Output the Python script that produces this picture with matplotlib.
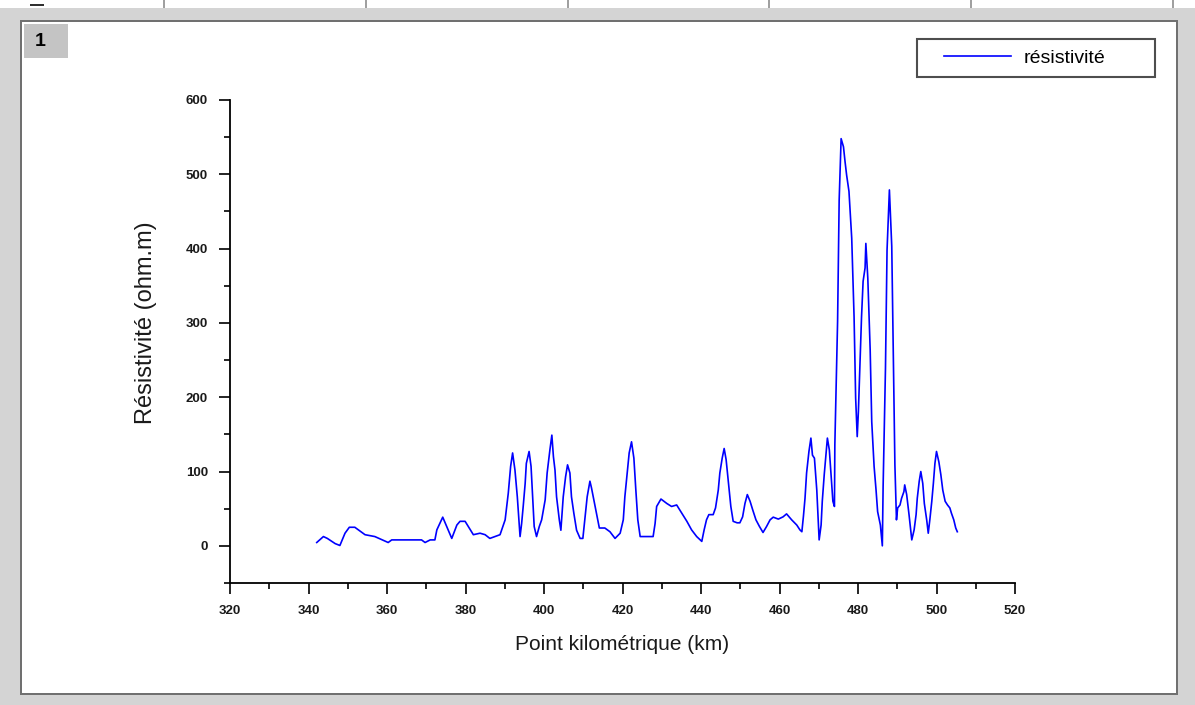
import matplotlib
matplotlib.use("Agg")
import matplotlib.pyplot as plt
from matplotlib.patches import Rectangle
from matplotlib.ticker import MultipleLocator
from matplotlib.offsetbox import DrawingArea

# ---- data ----
km = [342.1, 343.8, 344.8, 346.8, 348.0, 349.3, 350.4, 351.8, 354.4, 356.9,
      360.3, 361.2, 368.8, 369.7, 371.0, 372.2, 372.7, 374.2, 376.5, 377.8,
      378.6, 379.9, 382.0, 383.7, 385.0, 386.2, 388.8, 390.1, 390.9, 391.5,
      392.0, 392.6, 393.2, 393.9, 394.3, 394.7, 395.2, 395.5, 396.2, 396.7,
      397.1, 397.5, 398.1, 398.8, 399.4, 400.3, 400.8, 401.5, 402.0, 402.4,
      402.8, 403.2, 403.9, 404.3, 404.9, 405.5, 406.0, 406.6, 407.0, 407.6,
      408.3, 409.2, 409.9, 410.4, 411.0, 411.7, 412.1, 412.7, 413.4, 414.1,
      415.5, 416.8, 418.1, 419.4, 420.2, 420.6, 421.1, 421.7, 422.3, 422.9,
      423.4, 423.9, 424.5, 427.8, 428.3, 428.7, 429.8, 431.3, 432.5, 433.8,
      435.1, 436.4, 437.6, 438.9, 440.2, 440.8, 441.4, 442.0, 443.1, 443.7,
      444.4, 444.8, 445.4, 445.9, 446.4, 447.0, 447.6, 448.2, 449.2, 449.9,
      450.6, 451.2, 451.8, 452.5, 453.2, 454.0, 454.9, 455.8, 456.7, 457.6,
      458.4, 459.7, 460.9, 461.8, 463.1, 464.4, 465.2, 465.7, 466.1, 466.5,
      466.9, 467.5, 468.0, 468.4, 468.9, 469.5, 469.9, 470.1, 470.6, 470.9,
      471.4, 471.9, 472.2, 472.7, 473.1, 473.6, 474.0, 474.1, 474.8, 475.2,
      475.7, 476.3, 476.7, 477.1, 477.7, 478.4, 479.0, 479.4, 479.8, 480.1,
      480.5, 480.9, 481.3, 481.8, 482.0, 482.5, 483.1, 483.5, 484.1, 484.6,
      485.0, 485.7, 486.2, 486.4, 487.0, 487.4, 488.0, 488.6, 489.0, 489.4,
      489.8, 490.1, 490.7, 491.1, 491.7, 491.9, 492.4, 493.0, 493.7, 494.3,
      494.8, 495.1, 495.6, 496.0, 496.5, 496.9, 497.5, 497.9, 498.3, 498.8,
      499.2, 499.6, 500.0, 500.6, 501.1, 501.6, 502.2, 502.8, 503.4, 503.8,
      504.4, 504.9, 505.3]
resistivite = [4.5, 12.5, 10, 3, 0.5, 17, 25, 25, 15, 12.5,
               4.5, 8, 8, 4.5, 8, 8, 21.5, 38.6, 10, 28,
               33, 33, 15, 17, 15, 10, 15, 35, 71, 107,
               125, 102, 66, 12.5, 30, 53, 84, 111, 127, 107,
               66, 26, 12.5, 26, 35, 62, 98, 129, 149, 120,
               102, 66, 35, 21, 66, 93, 109, 98, 66, 44,
               21, 10, 10, 35, 66, 87, 78, 62, 44, 24,
               24, 19, 10, 17, 35, 66, 93, 125, 140, 118,
               75, 35, 12.5, 12.5, 30, 53, 63, 57, 53, 55,
               44, 33, 21.5, 12.5, 6, 21.5, 35, 42, 42, 51,
               75, 98, 118, 131, 116, 84, 53, 33, 31, 31,
               39, 57, 69, 60, 48, 35, 26, 18, 26, 35,
               38.6, 36, 39, 43, 35, 28, 21.5, 19, 40, 64,
               98, 127, 145, 122, 118, 75, 31, 8, 28, 60,
               96, 127, 145, 129, 98, 60, 53, 136, 302, 465,
               548, 537, 517, 499, 477, 414, 308, 199, 147, 181,
               246, 308, 356, 374, 407, 360, 264, 167, 107, 75,
               46, 28, 0, 80, 239, 398, 479, 403, 256, 109,
               35, 51, 55, 64, 73, 82, 69, 42, 8, 21.5,
               42, 64, 87, 100, 84, 57, 35, 17, 35, 60,
               84, 111, 127, 113, 96, 75, 60, 55, 51, 44,
               35, 24, 19]

x_ticks = [320, 340, 360, 380, 400, 420, 440, 460, 480, 500, 520]
y_ticks = [0, 100, 200, 300, 400, 500, 600]
series_label = "résistivité"
x_label = "Point kilométrique (km)"
y_label = "Résistivité (ohm.m)"
page_label = "1"

plt.rcParams['font.family'] = ['Liberation Sans', 'DejaVu Sans']

W, H = 1195, 705
fig = plt.figure(figsize=(W / 100, H / 100), dpi=100)
fig.patch.set_facecolor('#d4d4d4')


def px_rect(x0, y0, x1, y1, **kw):
    """rectangle given in pixel coords (origin top-left)"""
    fig.patches.append(Rectangle((x0 / W, 1 - y1 / H), (x1 - x0) / W, (y1 - y0) / H,
                                 transform=fig.transFigure, figure=fig,
                                 zorder=-10, **kw))


# top spreadsheet-like strip
px_rect(0, 0, W, 8, facecolor='white', edgecolor='none')
for sx in [163, 365, 567, 768, 970, 1172]:
    px_rect(sx, 0, sx + 1.5, 8, facecolor='#a0a0a0', edgecolor='none')
px_rect(30, 4, 44, 6, facecolor='#303030', edgecolor='none')
# page area
px_rect(20, 20, 1178, 695, facecolor='#707070', edgecolor='none')
px_rect(22, 22, 1176, 693, facecolor='white', edgecolor='none')
# page number box
px_rect(24, 24, 68, 58, facecolor='#c4c4c4', edgecolor='none')
fig.text(40 / W, 1 - 41 / H, page_label, fontsize=14, fontweight='bold',
         ha='center', va='center', color='black')

ax = fig.add_axes([230 / W, 1 - 583 / H, (1015 - 230) / W, (583 - 100) / H])
ax.set_facecolor('none')
ax.plot(km, resistivite, color='#0000ff', lw=1.2, label=series_label)

ax.set_xlim(320, 520)
ax.set_ylim(-50, 600)
ax.set_xticks(x_ticks)
ax.set_yticks(y_ticks)
ax.xaxis.set_minor_locator(MultipleLocator(10))
ax.yaxis.set_minor_locator(MultipleLocator(50))
for s in ['top', 'right']:
    ax.spines[s].set_visible(False)
for s in ['left', 'bottom']:
    ax.spines[s].set_linewidth(1.3)
    ax.spines[s].set_color('black')
ax.tick_params(which='major', direction='out', length=8, width=1.2, labelsize=9.5,
               labelcolor='#1a1a1a', pad=8)
ax.tick_params(which='minor', direction='out', length=4.5, width=1.2)
for lab in ax.get_xticklabels() + ax.get_yticklabels():
    lab.set_fontweight('bold')

ax.set_xlabel(x_label, fontsize=15, labelpad=13, color='#1a1a1a')
ax.set_ylabel(y_label, fontsize=17, color='#1a1a1a')
ax.yaxis.set_label_coords((157 - 230) / 785, (583 - 323) / 483)

fs = 14
fpx = fs * 100 / 72.0
leg = ax.legend(loc='upper right', bbox_to_anchor=(1155 / W, 1 - 39 / H),
                bbox_transform=fig.transFigure, frameon=True, fancybox=False,
                fontsize=fs, handlelength=67 / fpx, borderpad=0.52,
                handletextpad=12 / fpx, borderaxespad=0)
leg.get_frame().set_edgecolor('#222222')
leg.get_frame().set_linewidth(1.5)
# extra horizontal padding inside the legend box (wider box like the reference)
try:
    col = leg._legend_handle_box.get_children()[0]
    item = col.get_children()[0]
    item.get_children().insert(0, DrawingArea(4, 1))
    item.get_children().append(DrawingArea(20, 1))
except Exception:
    pass

fig.savefig('out.png', dpi=100, facecolor=fig.get_facecolor())
